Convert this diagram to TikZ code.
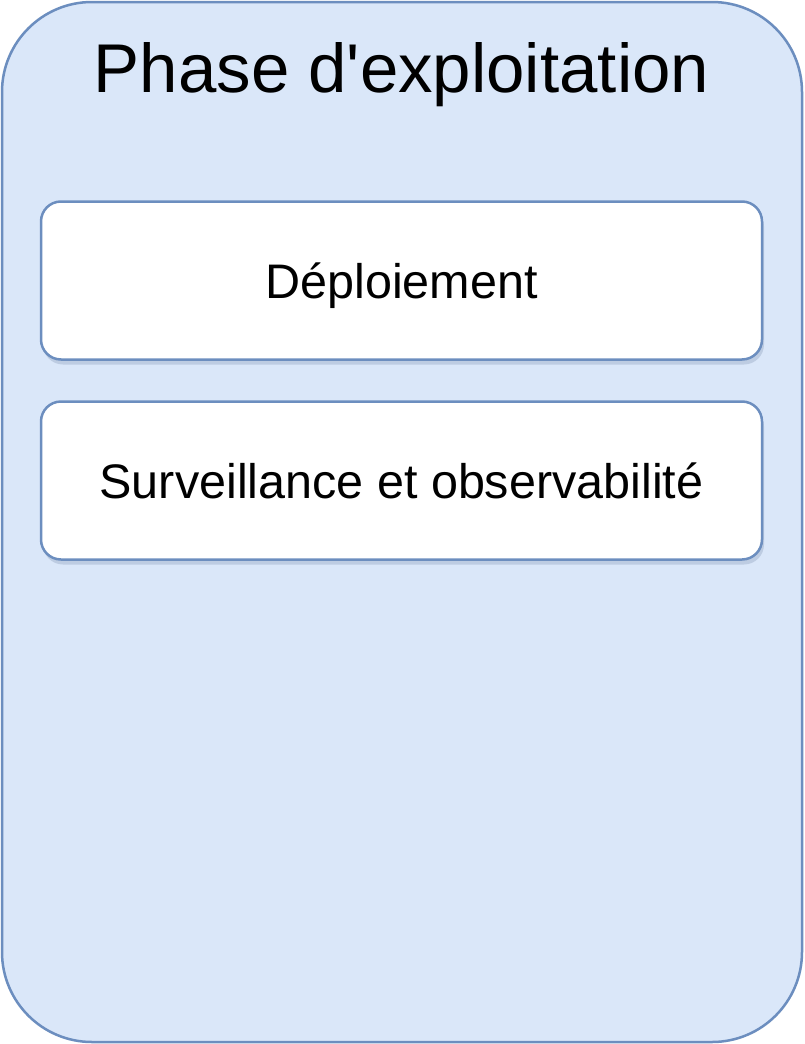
\documentclass[tikz,border=0pt]{standalone}
\usepackage{fontspec}
\setmainfont{Liberation Sans}
\newfontfamily\titlefont[Ligatures=TeXOff]{Liberation Sans}
\usetikzlibrary{shadows}
\definecolor{panelfill}{HTML}{DAE7F9}
\definecolor{panelline}{HTML}{6C8EBF}
\tikzset{
  panel/.style={draw=panelline, fill=panelfill, line width=2.5pt, rounded corners=90pt},
  itembox/.style={draw=panelline, fill=white, line width=2.5pt, rounded corners=20pt,
    minimum width=721pt, minimum height=158pt, inner sep=0pt,
    text height=35pt, text depth=0pt, font=\fontsize{48.5}{58}\selectfont,
    drop shadow={shadow xshift=2pt, shadow yshift=-5pt, opacity=0.2, fill=panelline!70!black}},
  titletext/.style={font=\titlefont\fontsize{69}{80}\selectfont, anchor=base, inner sep=0pt}
}
\begin{document}
\begin{tikzpicture}[x=1pt,y=-1pt]
  \useasboundingbox (0,0) rectangle (804,1044);
  \fill[white] (0,0) rectangle (804,1044);
  \draw[panel] (2,2) rectangle (802,1042);
  \node[titletext] (title) at (401.5,92) {Phase d'exploitation};
  \node[itembox] (deploy) at (401.5,280.5) {Déploiement};
  \node[itembox] (monitor) at (401.5,480.5) {Surveillance et observabilité};
\end{tikzpicture}
\end{document}
